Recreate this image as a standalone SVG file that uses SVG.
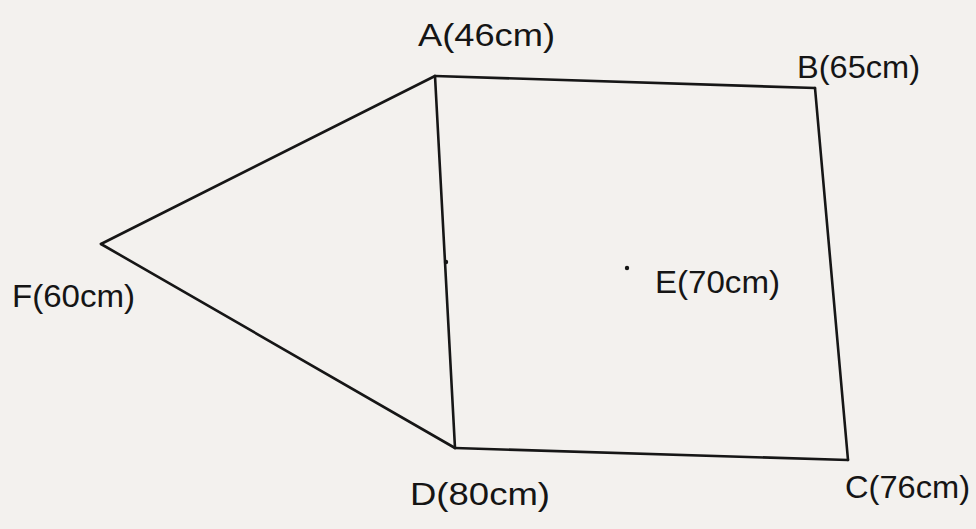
<svg xmlns="http://www.w3.org/2000/svg" width="976" height="529" viewBox="0 0 976 529">
<style>
.edge{stroke:#161616;stroke-width:2.6;fill:none;stroke-linecap:round}
.lbl{font-family:"Liberation Sans",Arial,sans-serif;font-size:31px;fill:#151515}
</style>
<rect width="976" height="529" fill="#f3f1ee"/>
<g id="connectors">
<path class="edge" d="M435 76 L815 88"/>
<path class="edge" d="M815 88 L848 460"/>
<path class="edge" d="M848 460 L455 448"/>
<path class="edge" d="M455 448 L435 76"/>
<path class="edge" d="M435 76 L101 244"/>
<path class="edge" d="M101 244 L455 448"/>
</g>
<g id="nodeA"><text class="lbl" x="418" y="46" textLength="137" lengthAdjust="spacingAndGlyphs">A(46cm)</text></g>
<g id="nodeB"><text class="lbl" x="797" y="78" textLength="123" lengthAdjust="spacingAndGlyphs">B(65cm)</text></g>
<g id="nodeC"><text class="lbl" x="845" y="498" textLength="125" lengthAdjust="spacingAndGlyphs">C(76cm)</text></g>
<g id="nodeD"><text class="lbl" x="410" y="505" textLength="140" lengthAdjust="spacingAndGlyphs">D(80cm)</text></g>
<g id="nodeE"><circle cx="627" cy="268" r="2.2" fill="#151515"/><text class="lbl" x="655" y="293" textLength="125" lengthAdjust="spacingAndGlyphs">E(70cm)</text></g>
<g id="nodeF"><text class="lbl" x="12" y="307" textLength="123" lengthAdjust="spacingAndGlyphs">F(60cm)</text></g>
<circle cx="446" cy="262" r="2.2" fill="#151515"/>
</svg>
